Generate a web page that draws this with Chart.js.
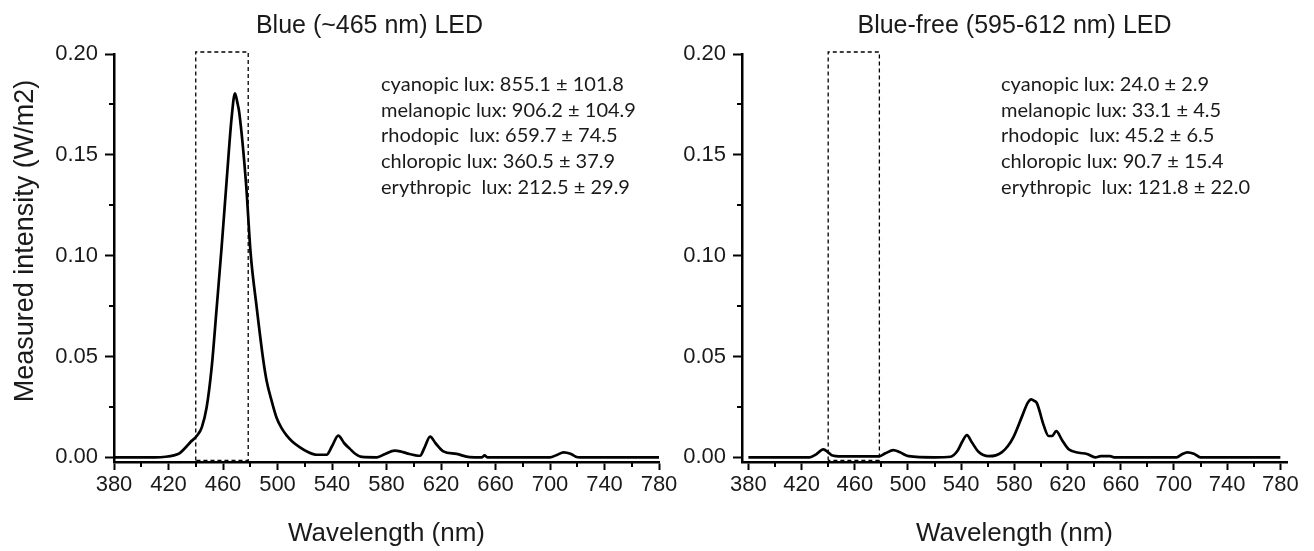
<!DOCTYPE html>
<html>
<head>
<meta charset="utf-8">
<title>LED spectra</title>
<script src="https://cdn.jsdelivr.net/npm/chart.js@4.4.1/dist/chart.umd.min.js"></script>
<style>
  html, body { margin: 0; padding: 0; background: #fff; }
  #wrap { position: relative; width: 1314px; height: 551px; overflow: hidden; }
  #wrap canvas { position: absolute; top: 0; }
</style>
</head>
<body>
<div id="wrap">
  <canvas id="blueChart" width="680" height="551" style="left:0"></canvas>
  <canvas id="freeChart" width="654" height="551" style="left:660px"></canvas>
</div>
<script>
// blue (~465 nm) LED spectrum, wavelength in nm / intensity in W/m2
var blueNm = [380, 410, 418, 424, 428, 432, 436, 441, 444.5, 448, 451.7, 455.4, 459, 462.7, 466.4, 468.8,
    470.5, 472, 476.9, 480.3, 484.7, 489.6, 492, 495.7, 499.4, 503, 506.8, 511, 516.5, 522, 528.8,
    536, 540, 544.6, 549, 553.2, 557, 562, 573, 579, 586, 590, 595, 604.6, 608, 612, 616, 621.7,
    631.5, 641, 650, 652, 654, 700, 705, 710, 715, 719, 722, 780];
var blueI = [0, 0, 0.0003, 0.001, 0.002, 0.0045, 0.0075, 0.0108, 0.015, 0.0248, 0.0447, 0.0745, 0.1043, 0.1375, 0.169, 0.1805,
    0.176, 0.1706, 0.1358, 0.101, 0.0745, 0.048, 0.038, 0.028, 0.0195, 0.0145, 0.0108, 0.0078, 0.005, 0.0028, 0.0013,
    0.0013, 0.0055, 0.0108, 0.007, 0.0042, 0.0018, 0.0002, 0, 0.0017, 0.0033, 0.003, 0.002, 0.0008, 0.005, 0.0103, 0.007, 0.003,
    0.0017, 0.0001, 0, 0.001, 0, 0, 0.0012, 0.0025, 0.0018, 0.0003, 0, 0];

// blue-free (595-612 nm) LED spectrum
var freeNm = [380, 426, 431, 436.4, 440, 442.7, 450, 478, 483, 489, 494, 500.4, 520, 532, 537, 541, 544.3, 548,
    553, 560.6, 566, 570.7, 575, 579.4, 585.7, 590, 592.7, 595, 597, 602, 605.7, 608.3, 611.5, 615.8,
    620.8, 628.3, 634.6, 640.9, 645, 652, 655, 702, 706, 710, 715, 720, 780];
var freeI = [0, 0, 0.0015, 0.004, 0.0025, 0.0011, 0.0005, 0.0005, 0.002, 0.0036, 0.0025, 0.0006, 0, 0.0003, 0.003, 0.008, 0.011, 0.0075,
    0.0028, 0.0006, 0.001, 0.0026, 0.0055, 0.0102, 0.0202, 0.027, 0.0288, 0.028, 0.0268, 0.016, 0.0106, 0.0106, 0.013, 0.0086,
    0.004, 0.0023, 0.0017, 0, 0.0006, 0.0006, 0, 0, 0.0015, 0.0025, 0.0018, 0, 0];

var xTicks = [380, 420, 460, 500, 540, 580, 620, 660, 700, 740, 780];
var xMinor = [400, 440, 480, 520, 560, 600, 640, 680, 720, 760];
var yTicks = [0, 0.05, 0.1, 0.15, 0.2];
var yMinor = [0.025, 0.075, 0.125, 0.175];

// dashed window 440-478 nm
var boxNm = [440, 478.5];
var boxI = [-0.0015, 0.201];

var blueNotes = ["cyanopic lux: 855.1 \u00b1 101.8", "melanopic lux: 906.2 \u00b1 104.9", "rhodopic  lux: 659.7 \u00b1 74.5",
    "chloropic lux: 360.5 \u00b1 37.9", "erythropic  lux: 212.5 \u00b1 29.9"];
var freeNotes = ["cyanopic lux: 24.0 \u00b1 2.9", "melanopic lux: 33.1 \u00b1 4.5", "rhodopic  lux: 45.2 \u00b1 6.5",
    "chloropic lux: 90.7 \u00b1 15.4", "erythropic  lux: 121.8 \u00b1 22.0"];

var ARIAL = '"Liberation Sans", Arial, sans-serif';
var INK = '#1a1a1a';

function toPoints(xs, ys) {
    return xs.map(function (x, i) { return {x: x, y: ys[i]}; });
}

function boxPoints() {
    return [
        {x: boxNm[0], y: boxI[0]}, {x: boxNm[0], y: boxI[1]},
        {x: boxNm[1], y: boxI[1]}, {x: boxNm[1], y: boxI[0]},
        {x: boxNm[0], y: boxI[0]}
    ];
}

// minor ticks, panel title, y title and the lux notes
var panelText = {
    id: 'panelText',
    afterDraw: function (chart, args, opts) {
        var ctx = chart.ctx;
        var area = chart.chartArea;
        var xs = chart.scales.x, ys = chart.scales.y;
        ctx.save();
        ctx.strokeStyle = '#000';
        ctx.lineWidth = 2;
        xMinor.forEach(function (v) {
            var px = Math.round(xs.getPixelForValue(v));
            ctx.beginPath();
            ctx.moveTo(px, area.bottom);
            ctx.lineTo(px, area.bottom + 5);
            ctx.stroke();
        });
        yMinor.forEach(function (v) {
            var py = Math.round(ys.getPixelForValue(v));
            ctx.beginPath();
            ctx.moveTo(area.left - 5, py);
            ctx.lineTo(area.left, py);
            ctx.stroke();
        });

        ctx.fillStyle = INK;
        ctx.font = '25px ' + ARIAL;
        ctx.textAlign = 'center';
        ctx.textBaseline = 'alphabetic';
        ctx.fillText(opts.title, (area.left + area.right) / 2 + opts.titleShift, 33);

        if (opts.yTitle) {
            ctx.save();
            ctx.translate(26, 241);
            ctx.rotate(-Math.PI / 2);
            ctx.font = '27px ' + ARIAL;
            ctx.textBaseline = 'middle';
            ctx.fillText(opts.yTitle, 0, 0);
            ctx.restore();
        }

        ctx.font = '20px Lato, "Open Sans", sans-serif';
        ctx.textAlign = 'left';
        var nx = xs.getPixelForValue(opts.noteNm);
        var ny = ys.getPixelForValue(opts.noteI);
        opts.notes.forEach(function (t, i) {
            ctx.fillText(t, nx, ny + i * 25.8);
        });
        ctx.restore();
    }
};

function makeChart(id, nm, inten, xMin, xMax, axisWidth, padRight, textOpts) {
    return new Chart(document.getElementById(id), {
        type: 'line',
        data: {
            datasets: [
                {
                    data: toPoints(nm, inten),
                    borderColor: '#000',
                    borderWidth: 2.7,
                    pointRadius: 0,
                    cubicInterpolationMode: 'monotone'
                },
                {
                    data: boxPoints(),
                    borderColor: '#000',
                    borderWidth: 1.3,
                    borderDash: [4, 3],
                    pointRadius: 0,
                    tension: 0,
                    clip: false
                }
            ]
        },
        options: {
            responsive: false,
            animation: false,
            layout: {padding: {left: 0, top: 54, right: padRight, bottom: 0}},
            plugins: {
                legend: {display: false},
                tooltip: {enabled: false},
                panelText: textOpts
            },
            scales: {
                x: {
                    type: 'linear',
                    min: xMin,
                    max: xMax,
                    afterBuildTicks: function (s) {
                        s.ticks = xTicks.map(function (v) { return {value: v}; });
                    },
                    afterFit: function (s) { s.height = 89; },
                    ticks: {
                        autoSkip: false,
                        maxRotation: 0,
                        padding: 2,
                        color: INK,
                        font: {family: ARIAL, size: 22},
                        callback: function (v) { return String(v); }
                    },
                    grid: {drawOnChartArea: false, tickLength: 8, tickWidth: 2, tickColor: '#000'},
                    border: {color: '#000', width: 2.5},
                    title: {
                        display: true,
                        text: 'Wavelength (nm)',
                        color: INK,
                        font: {family: ARIAL, size: 26},
                        padding: {top: 0, bottom: 2}
                    }
                },
                y: {
                    min: -0.0023,
                    max: 0.2,
                    afterBuildTicks: function (s) {
                        s.ticks = yTicks.map(function (v) { return {value: v}; });
                    },
                    afterFit: function (s) { s.width = axisWidth; },
                    ticks: {
                        padding: 7,
                        color: INK,
                        font: {family: ARIAL, size: 22},
                        callback: function (v) { return v.toFixed(2); }
                    },
                    grid: {drawOnChartArea: false, tickLength: 9, tickWidth: 2, tickColor: '#000'},
                    border: {color: '#000', width: 2.5}
                }
            }
        },
        plugins: [panelText]
    });
}

var blueChart = makeChart('blueChart', blueNm, blueI, 380, 780, 114, 21, {
    title: 'Blue (~465 nm) LED',
    titleShift: -17,
    yTitle: 'Measured intensity (W/m2)',
    notes: blueNotes,
    noteNm: 576,
    noteI: 0.1818
});

var freeChart = makeChart('freeChart', freeNm, freeI, 375.2, 785, 82, 27, {
    title: 'Blue-free (595-612 nm) LED',
    titleShift: 0,
    yTitle: null,
    notes: freeNotes,
    noteNm: 570,
    noteI: 0.1818
});
</script>
</body>
</html>
